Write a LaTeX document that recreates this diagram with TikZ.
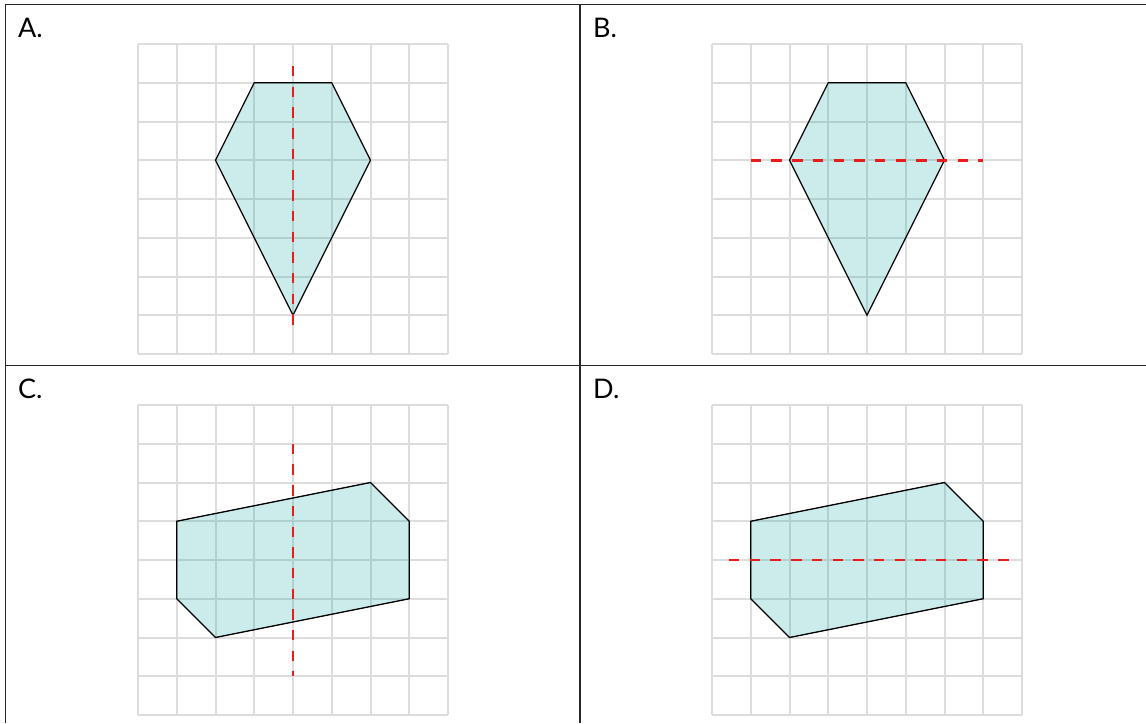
\documentclass[tikz,border=0pt]{standalone}
\usepackage{fontspec}
\setmainfont{Lato}
\begin{document}
\begin{tikzpicture}[x=1pt,y=-1pt,
  gridline/.style={draw={rgb,255:red,221;green,221;blue,221},line width=2pt},
  shapefill/.style={fill={rgb,255:red,0;green,158;blue,158},fill opacity=0.2,draw=black,line width=1.3pt,line join=miter},
  axisline/.style={draw={rgb,255:red,232;green,28;blue,28},line width=2.7pt,dash pattern=on 10.4pt off 10.3pt},
  frame/.style={draw={rgb,255:red,40;green,40;blue,40},line width=1.6pt},
  lbl/.style={anchor=base west,font=\fontsize{27}{32}\selectfont,inner sep=0pt},
  panel/.style={x=38.75pt,y=-38.75pt}]
\useasboundingbox (0,0) rectangle (1146,723);
% frame
\draw[frame] (5.5,723) -- (5.5,4.5) -- (1146,4.5);
\draw[frame] (580,4.5) -- (580,723);
\draw[frame] (5.5,365.5) -- (1146,365.5);
% labels
\node[lbl] (la) at (18,37.5) {A.};
\node[lbl] (lb) at (593,37.5) {B.};
\node[lbl] (lc) at (18,398.5) {C.};
\node[lbl] (ld) at (593,398.5) {D.};
% panel A
\begin{scope}[shift={(138,44)},panel]
  \foreach \i in {0,...,8} {\draw[gridline] (\i,0) -- (\i,8); \draw[gridline] (0,\i) -- (8,\i);}
  \draw[shapefill] (3,1) -- (5,1) -- (6,3) -- (4,7) -- (2,3) -- cycle;
  \draw[axisline] (4,0.57) -- (4,7.5);
\end{scope}
% panel B
\begin{scope}[shift={(712,44)},panel]
  \foreach \i in {0,...,8} {\draw[gridline] (\i,0) -- (\i,8); \draw[gridline] (0,\i) -- (8,\i);}
  \draw[shapefill] (3,1) -- (5,1) -- (6,3) -- (4,7) -- (2,3) -- cycle;
  \draw[axisline] (1,3) -- (7,3);
\end{scope}
% panel C
\begin{scope}[shift={(138,405)},panel]
  \foreach \i in {0,...,8} {\draw[gridline] (\i,0) -- (\i,8); \draw[gridline] (0,\i) -- (8,\i);}
  \draw[shapefill] (1,3) -- (6,2) -- (7,3) -- (7,5) -- (2,6) -- (1,5) -- cycle;
  \draw[axisline] (4,1) -- (4,7);
\end{scope}
% panel D
\begin{scope}[shift={(712,405)},panel]
  \foreach \i in {0,...,8} {\draw[gridline] (\i,0) -- (\i,8); \draw[gridline] (0,\i) -- (8,\i);}
  \draw[shapefill] (1,3) -- (6,2) -- (7,3) -- (7,5) -- (2,6) -- (1,5) -- cycle;
  \draw[axisline] (0.44,4) -- (7.68,4);
\end{scope}
\end{tikzpicture}
\end{document}
